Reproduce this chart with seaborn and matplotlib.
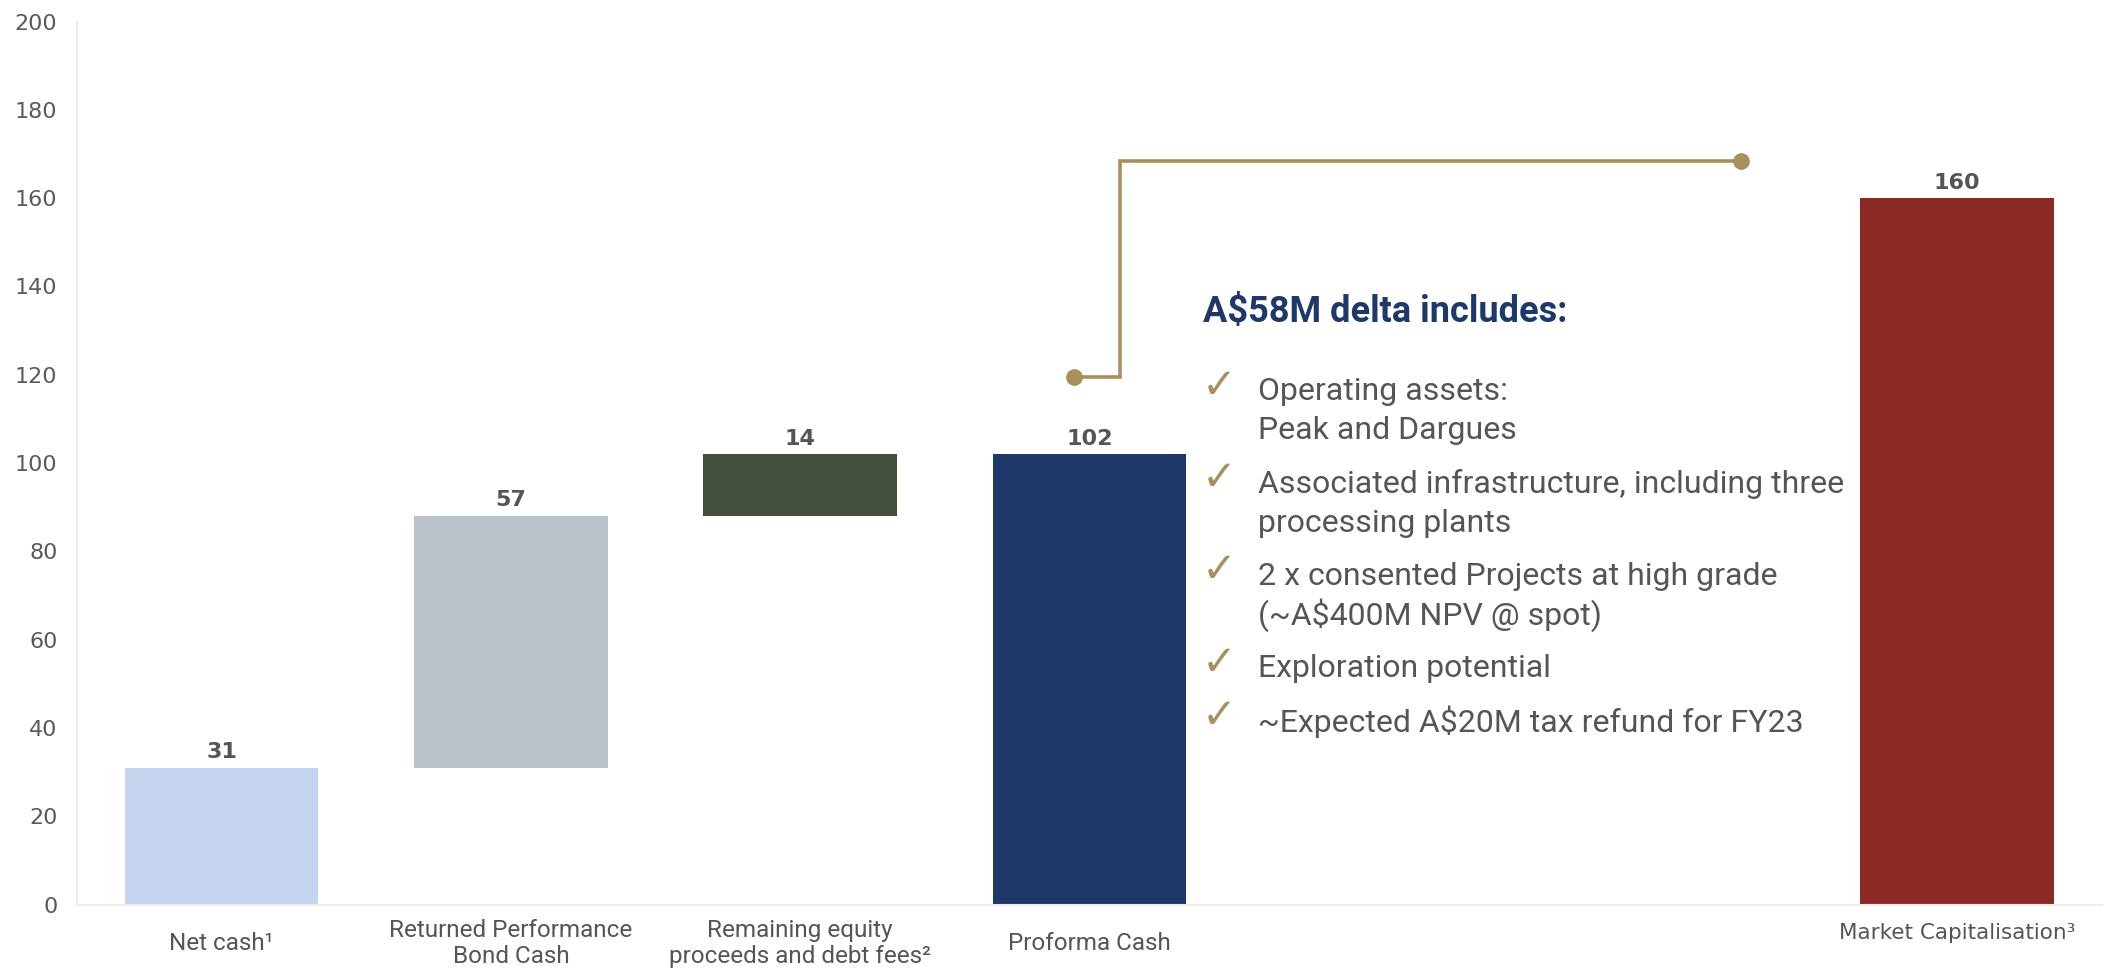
import pandas as pd
import matplotlib.pyplot as plt
import seaborn as sns

# ---- data ----
steps = ["Net cash", "Returned Performance Bond Cash", "Remaining equity proceeds and debt fees",
         "Proforma Cash", "Market Capitalisation"]
step_values = [31, 57, 14, 102, 160]
step_kind = ["start", "delta", "delta", "total", "total"]
step_colors = ["#C5D4EF", "#BAC3CA", "#454F3E", "#1E3869", "#8B2A25"]
tick_labels = ["Net cash\u00b9", "Returned Performance\nBond Cash",
               "Remaining equity\nproceeds and debt fees\u00b2", "Proforma Cash",
               "", "", "Market Capitalisation\u00b3"]
axis_order = steps[:4] + ["_gap1", "_gap2"] + steps[4:]

bracket_x = [2.945, 3.107, 3.107, 5.253]
bracket_y = [119.5, 119.5, 168.3, 168.3]

heading = "A$58M delta includes:"
bullets = [
    ["Operating assets:", "Peak and Dargues"],
    ["Associated infrastructure, including three", "processing plants"],
    ["2 x consented Projects at high grade", "(~A$400M NPV @ spot)"],
    ["Exploration potential"],
    ["~Expected A$20M tax refund for FY23"],
]

NAVY = "#1E3869"
GOLD = "#A6905E"
GREY_TXT = "#555555"

# waterfall bases / tops
bases, tops = [], []
running = 0
for v, k in zip(step_values, step_kind):
    if k == "delta":
        bases.append(running)
        running += v
    else:
        bases.append(0)
        running = v
    tops.append(running)

df = pd.DataFrame({"step": steps, "top": tops, "base": bases, "value": step_values})

sns.set_theme(style="white")
plt.rcParams["font.family"] = ["DejaVu Sans"]

fig = plt.figure(figsize=(21.08, 9.75), dpi=100)
ax = fig.add_axes([0.0365, 0.0723, 0.9606, 0.9056])

sns.barplot(data=df, x="step", y="top", hue="step", order=axis_order, hue_order=steps,
            palette=dict(zip(steps, step_colors)), width=0.67, saturation=1,
            linewidth=0, legend=False, ax=ax)
n_colored = len(ax.containers)
sns.barplot(data=df, x="step", y="base", order=axis_order, color="white", width=0.67,
            saturation=1, linewidth=0, ax=ax)

for i, cont in enumerate(ax.containers[:n_colored]):
    ax.bar_label(cont, labels=[str(step_values[i])], padding=4, fontsize=16,
                 fontweight="bold", color=GREY_TXT)

ax.set_xlim(-0.5, 6.5)
ax.set_ylim(0, 200)
ax.set_yticks(range(0, 201, 20))
ax.set_xticks(range(len(axis_order)))
ax.set_xticklabels(tick_labels)
ax.set_xlabel("")
ax.set_ylabel("")

ax.tick_params(axis="y", length=0, pad=14, labelsize=16, labelcolor="#5A5A5A")
ax.tick_params(axis="x", length=0, pad=28, labelcolor=GREY_TXT)
for lab in ax.get_xticklabels():
    lab.set_verticalalignment("center")
    lab.set_linespacing(1.15)
    if "Market" in lab.get_text():
        lab.set_fontfamily("DejaVu Sans")
        lab.set_fontsize(15.5)
        lab.set_y(0.012)
    else:
        lab.set_fontfamily("Roboto")
        lab.set_fontsize(17.5)

for side in ["top", "right"]:
    ax.spines[side].set_visible(False)
for side in ["left", "bottom"]:
    ax.spines[side].set_color("#EEEEEE")
    ax.spines[side].set_linewidth(1.5)

# connector bracket
ax.plot(bracket_x, bracket_y, color=GOLD, lw=2.6, solid_joinstyle="miter", zorder=3)
ax.plot([bracket_x[0], bracket_x[-1]], [bracket_y[0], bracket_y[-1]], "o", color=GOLD,
        markersize=11, zorder=4)

# text block
ax.text(0.556, 0.6713, heading, transform=ax.transAxes, fontsize=26, fontweight="bold",
        color=NAVY, family="Roboto", va="center", ha="left")
y = 0.5807
line_step = 0.0442
bullet_step = 0.0604
for item in bullets:
    ax.text(0.5555, y + 0.007, "\u2713", transform=ax.transAxes, fontsize=30, color=GOLD,
            family="DejaVu Sans", va="center", ha="left")
    for j, line in enumerate(item):
        ax.text(0.5832, y, line, transform=ax.transAxes, fontsize=23, color=GREY_TXT,
                family="Roboto", va="center", ha="left")
        if j < len(item) - 1:
            y -= line_step
    y -= bullet_step

fig.savefig("out.png", dpi=100)
